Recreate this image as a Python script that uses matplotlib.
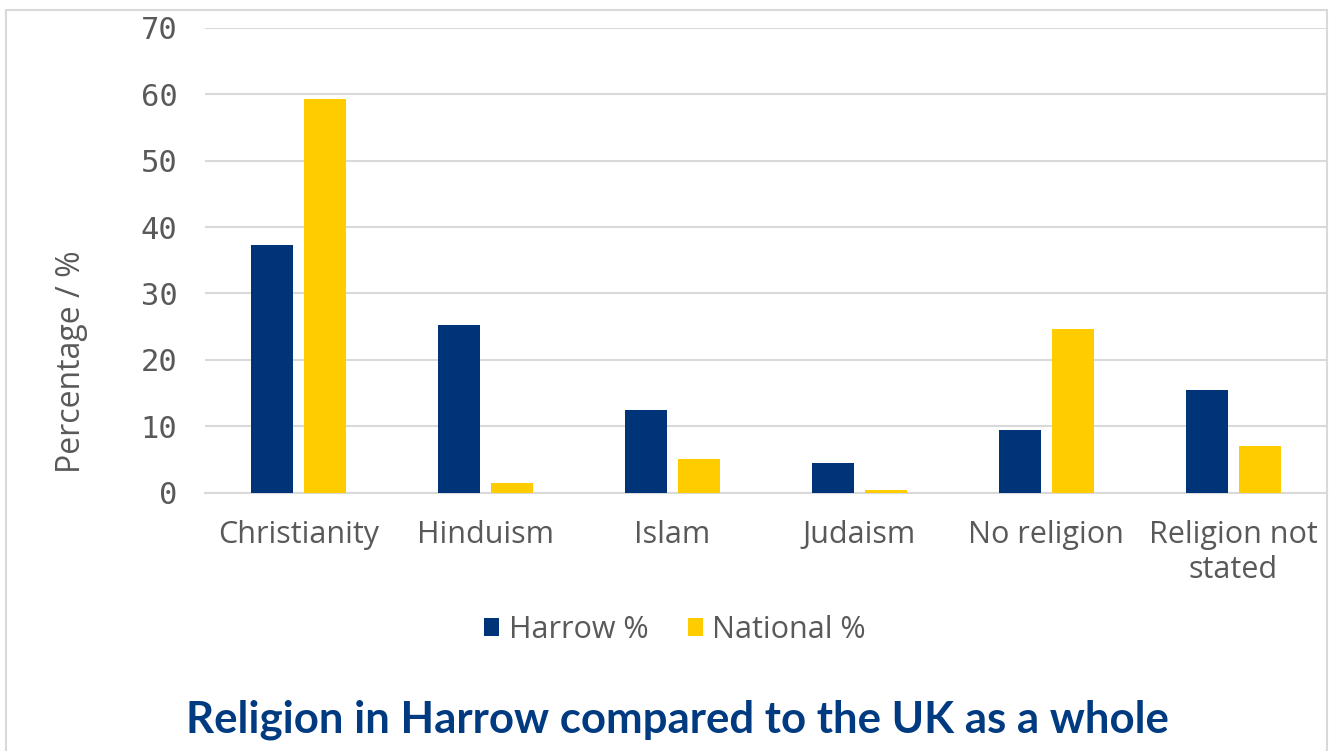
import numpy as np
import matplotlib.pyplot as plt
from matplotlib.patches import Rectangle

# Religion in Harrow vs national (England & Wales) - percentages
categorias = ["Christianity", "Hinduism", "Islam", "Judaism", "No religion", "Religion not\nstated"]
harrow = [37.3, 25.3, 12.4, 4.4, 9.5, 15.4]
nacional = [59.3, 1.4, 5.0, 0.4, 24.6, 7.1]

azul = "#003478"
amarillo = "#FFCC00"
gris = "#595959"

fig = plt.figure(figsize=(13.32, 7.51), dpi=100)
ax = fig.add_axes([0.154, 0.344, 0.842, 0.619])

# marco exterior claro
fig.patches.append(Rectangle((6/1332, -0.05), 1321/1332, 1.05 - 10/751,
                             transform=fig.transFigure, fill=False,
                             edgecolor="#D9D9D9", linewidth=1.5))

x = np.arange(len(categorias))
ancho = 0.225
ax.bar(x - 0.1425, harrow, ancho, color=azul, label="Harrow %", zorder=3)
ax.bar(x + 0.1425, nacional, ancho, color=amarillo, label="National %", zorder=3)

ax.set_xlim(-0.5, len(categorias) - 0.5)
ax.set_ylim(0, 70)
ax.set_yticks(range(0, 71, 10))
ax.grid(axis="y", color="#D9D9D9", linewidth=1.5, zorder=0)
for s in ["top", "right", "left"]:
    ax.spines[s].set_visible(False)
ax.spines["bottom"].set_color("#D9D9D9")
ax.spines["bottom"].set_linewidth(1.5)
ax.tick_params(axis="both", length=0)
ax.tick_params(axis="y", pad=20)
ax.tick_params(axis="x", pad=20)

ax.set_xticks(x)
ax.set_xticklabels(categorias, fontsize=22, color=gris, family="Open Sans",
                   linespacing=1.2)
for t in ax.get_yticklabels():
    t.set_family("DejaVu Sans Mono")
    t.set_fontsize(22)
    t.set_color(gris)

# etiqueta del eje y (no centrada en el eje, como en el original)
fig.text(72/1332, 1 - 362/751, "Percentage / %", rotation=90, ha="center",
         va="center", fontsize=23, color=gris, family="Open Sans")

fig.legend(loc="center", bbox_to_anchor=(675/1332, 1 - 630/751), ncol=2,
           frameon=False, prop={"family": "Open Sans", "size": 22},
           labelcolor=gris, handlelength=0.5, handleheight=0.5,
           handletextpad=0.3, columnspacing=1.3)

fig.text(677/1332, 1 - 720/751, "Religion in Harrow compared to the UK as a whole",
         ha="center", va="center", fontsize=31.5, color="#003A80", family="Lato",
         fontweight="bold")

fig.savefig("out.png", dpi=100)
